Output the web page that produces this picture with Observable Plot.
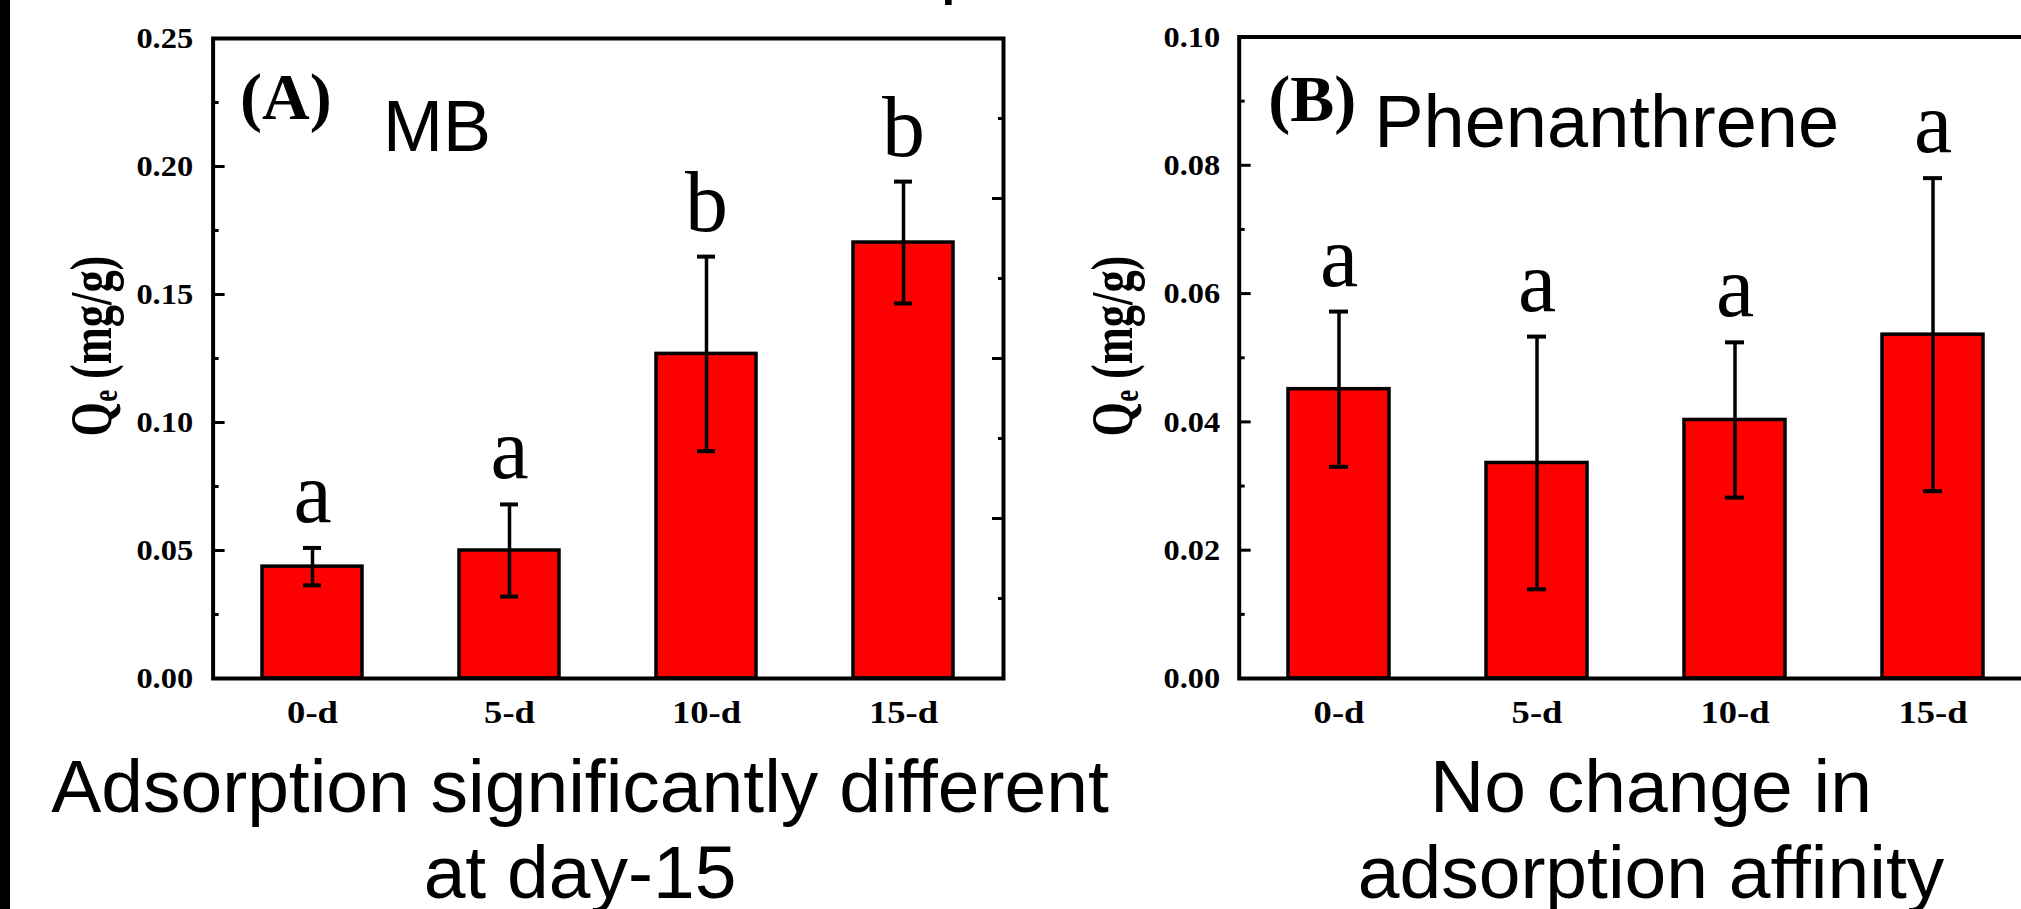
<!DOCTYPE html>
<html>
<head>
<meta charset="utf-8">
<script src="https://cdn.jsdelivr.net/npm/d3@7"></script>
<script src="https://cdn.jsdelivr.net/npm/@observablehq/plot@0.6"></script>
<style>
  html, body { margin: 0; padding: 0; background: #fff; overflow: hidden; }
  body { width: 2021px; height: 909px; position: relative; }
  #band { position: absolute; left: 0; top: 0; width: 10px; height: 909px; background: #000; }
  .panel { position: absolute; top: 0; }
  .panel svg { max-width: none !important; }
  .cap { position: absolute; font-family: "Liberation Sans", Arial, sans-serif; font-size: 75px; line-height: 86px;
         text-align: center; color: #000; white-space: nowrap; transform: translateX(-50%); }
  .ylab { position: absolute; font-family: "Liberation Serif", "Times New Roman", serif; font-weight: bold;
          font-size: 60px; line-height: 64px; white-space: nowrap; color: #000;
          transform: translate(-50%, -50%) rotate(-90deg) scaleX(0.74); }
  .ylab sub { font-size: 0.6em; vertical-align: -0.15em; }
  .frag { position: absolute; font-family: "Liberation Sans", Arial, sans-serif; font-size: 75px; line-height: 86px; }
</style>
</head>
<body>
<div id="band"></div>
<div class="frag" style="left:940px;top:-79px;">p</div>
<div id="panelA" class="panel" style="left:0px;width:1010px;"></div>
<div id="panelB" class="panel" style="left:1010px;width:1030px;"></div>
<div class="ylab" style="left:98px;top:346px;">Q<sub>e</sub> (mg/g)</div>
<div class="ylab" style="left:1119px;top:346px;">Q<sub>e</sub> (mg/g)</div>
<div class="cap" style="left:580px;top:743px;">Adsorption significantly different<br>at day-15</div>
<div class="cap" style="left:1651px;top:743px;">No change in<br>adsorption affinity</div>
<script>
// ---- data ----
const days = ["0-d", "5-d", "10-d", "15-d"];
const mbMean = [0.0437, 0.0500, 0.1268, 0.1703];
const mbErr = [0.0073, 0.0180, 0.0380, 0.0238];
const mbLetters = ["a", "a", "b", "b"];
const phenMean = [0.0451, 0.0336, 0.0403, 0.0536];
const phenErr = [0.0121, 0.0197, 0.0121, 0.0244];
const phenLetters = ["a", "a", "a", "a"];
const mbTicks = [0, 0.05, 0.10, 0.15, 0.20, 0.25];
const mbMinor = [0.025, 0.075, 0.125, 0.175, 0.225];
const mbRightMajor = [0.0625, 0.125, 0.1875];
const mbRightMinor = [0.03125, 0.09375, 0.15625, 0.21875];
const phenTicks = [0, 0.02, 0.04, 0.06, 0.08, 0.10];
const phenMinor = [0.01, 0.03, 0.05, 0.07, 0.09];
const phenRightMajor = [0.02, 0.04, 0.06, 0.08];

const serif = "'Liberation Serif', 'Times New Roman', serif";
const sans = "'Liberation Sans', Arial, sans-serif";

function rows(means, errs, letters) {
  return days.map((d, i) => ({day: d, mean: means[i], err: errs[i], letter: letters[i]}));
}

function panel({data, yMax, major, minor, rightMajor, rightMinor, width, marginLeft, marginRight, marginTop,
                tag, tagDx, tagDy, name, nameDx, nameDy, nameSize, tickPad}) {
  const fmt = d3.format(".2f");
  const tickOnly = (values, anchor, size) =>
    Plot.axisY(values, {anchor, tickSize: size, fill: "none", stroke: "#000", strokeWidth: 3, label: null});
  const chart = Plot.plot({
    width, height: 760,
    marginLeft, marginRight, marginTop, marginBottom: 82,
    style: {background: "transparent", color: "#000"},
    x: {domain: days, paddingInner: 0.49, paddingOuter: 0.245, axis: null, label: null},
    y: {domain: [0, yMax], axis: null, label: null},
    marks: [
      Plot.barY(data, {x: "day", y: "mean", fill: "#ff0000", stroke: "#000", strokeWidth: 3.5}),
      Plot.ruleX(data, {x: "day", y1: d => d.mean - d.err, y2: d => d.mean + d.err, stroke: "#000", strokeWidth: 3.5}),
      Plot.tickY(data, {x: "day", y: d => d.mean - d.err, stroke: "#000", strokeWidth: 4, insetLeft: 41, insetRight: 41}),
      Plot.tickY(data, {x: "day", y: d => d.mean + d.err, stroke: "#000", strokeWidth: 4, insetLeft: 41, insetRight: 41}),
      Plot.text(data, {x: "day", y: d => d.mean + d.err, text: "letter", dy: -26, lineAnchor: "bottom",
                       fontSize: 86, fontFamily: serif, fill: "#000"}),
      // left axis labels and inward ticks
      Plot.axisY(major, {anchor: "left", tickSize: 0, tickPadding: tickPad, tickFormat: fmt, label: null,
                         fontSize: 30, fontWeight: "bold", fontFamily: serif}),
      tickOnly(major, "left", -12),
      tickOnly(minor, "left", -6),
      // right frame inward ticks
      tickOnly(rightMajor, "right", -12),
      tickOnly(rightMinor, "right", -6),
      Plot.axisX(days, {anchor: "bottom", tickSize: 0, tickPadding: 22, fontSize: 31, fontWeight: "bold",
                        fontFamily: serif, label: null}),
      Plot.frame({stroke: "#000", strokeWidth: 4}),
      Plot.text([tag], {frameAnchor: "top-left", dx: tagDx, dy: tagDy, lineAnchor: "bottom", textAnchor: "start",
                        fontSize: 66, fontWeight: "bold", fontFamily: serif, fill: "#000"}),
      Plot.text([name], {frameAnchor: "top-left", dx: nameDx, dy: nameDy, lineAnchor: "bottom", textAnchor: "start",
                         fontSize: nameSize, fontFamily: sans, fill: "#000"})
    ]
  });
  // the original tick labels are drawn slightly wide
  chart.querySelectorAll('g[aria-label="x-axis tick label"] text').forEach(t => {
    t.setAttribute("transform", (t.getAttribute("transform") || "") + " scale(1.18,1)");
  });
  chart.querySelectorAll('g[aria-label="y-axis tick label"] text').forEach(t => {
    t.setAttribute("transform", (t.getAttribute("transform") || "") + " scale(1.08,1)");
  });
  return chart;
}

document.getElementById("panelA").appendChild(panel({
  data: rows(mbMean, mbErr, mbLetters), yMax: 0.25, major: mbTicks, minor: mbMinor,
  rightMajor: mbRightMajor, rightMinor: mbRightMinor,
  width: 1010, marginLeft: 212.6, marginRight: 7, marginTop: 38,
  tag: "(A)", tagDx: 27, tagDy: 80, name: "MB", nameDx: 170, nameDy: 112, nameSize: 72, tickPad: 20
}));

document.getElementById("panelB").appendChild(panel({
  data: rows(phenMean, phenErr, phenLetters), yMax: 0.10, major: phenTicks, minor: phenMinor,
  rightMajor: phenRightMajor, rightMinor: phenMinor,
  width: 1030, marginLeft: 228.7, marginRight: 8, marginTop: 36.5,
  tag: "(B)", tagDx: 29, tagDy: 84, name: "Phenanthrene", nameDx: 135, nameDy: 110, nameSize: 74, tickPad: 19
}));
</script>
</body>
</html>
